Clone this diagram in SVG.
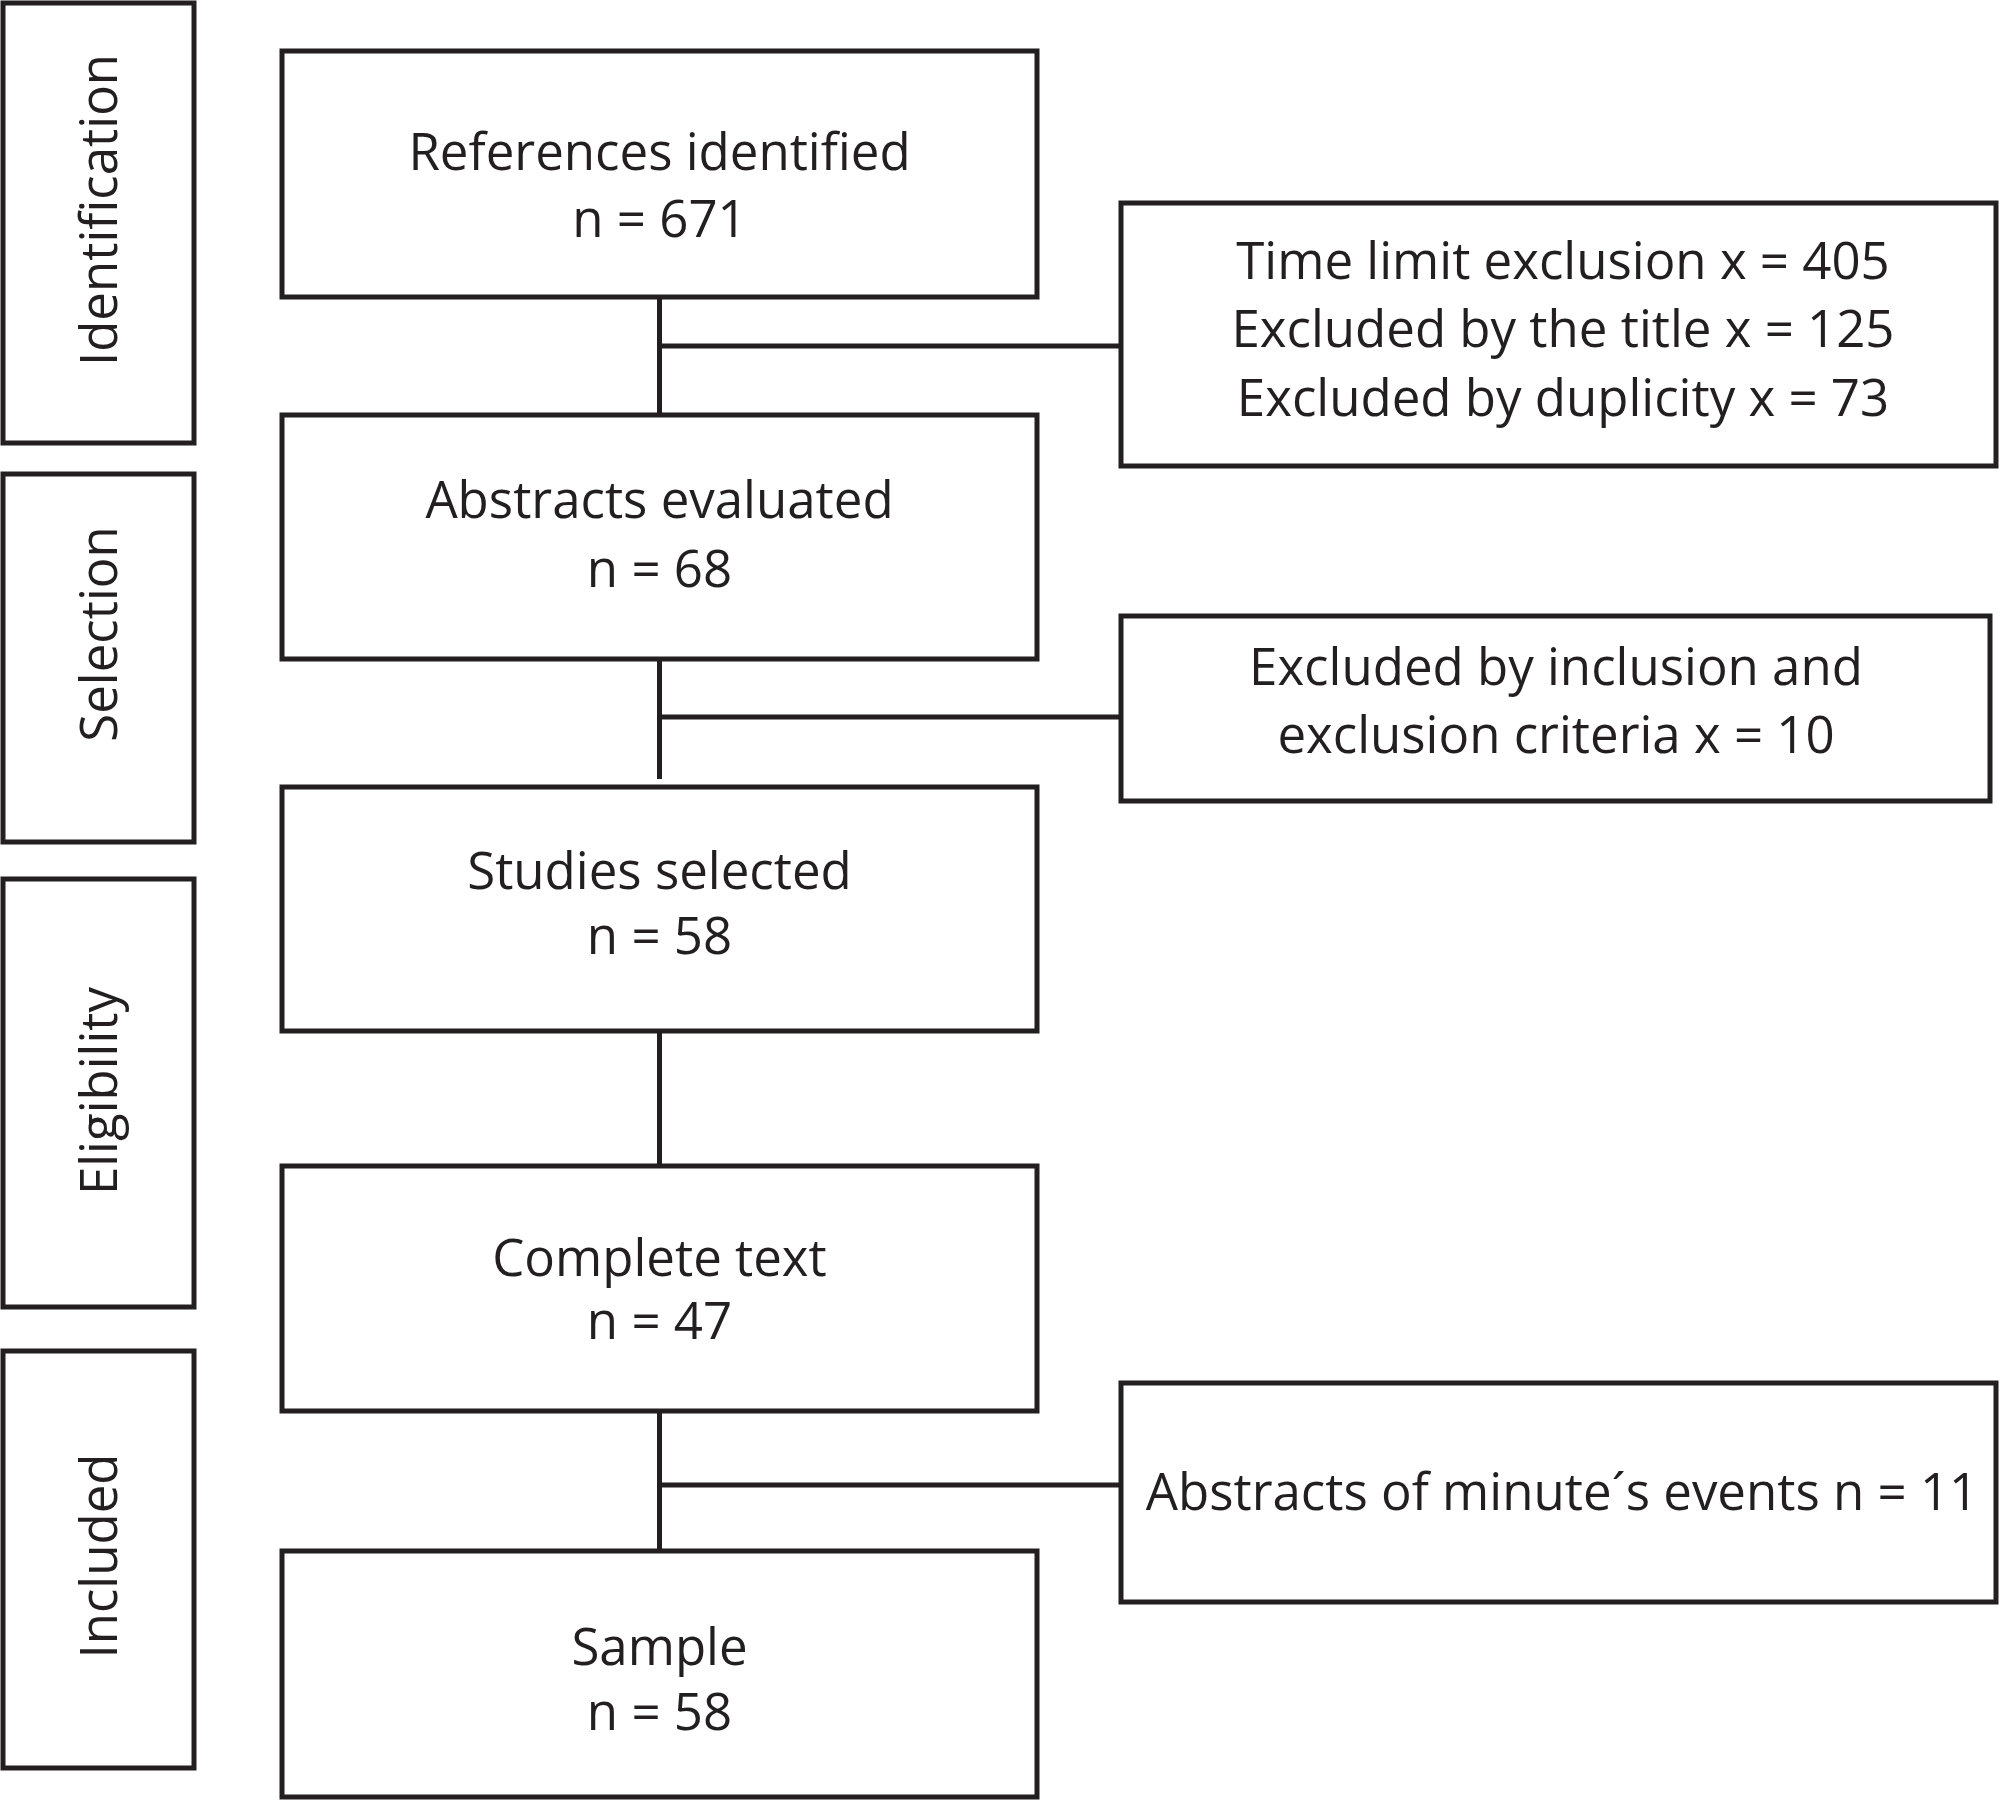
<svg xmlns="http://www.w3.org/2000/svg" width="2000" height="1800" viewBox="0 0 2000 1800">
<style>
rect{fill:#fff;stroke:#231f20;stroke-width:5}
line{stroke:#231f20;stroke-width:5}
text{font-family:"Open Sans","DejaVu Sans",sans-serif;font-size:51px;fill:#231f20;text-anchor:middle}
</style>
<rect x="0" y="0" width="2000" height="1800" style="stroke:none"/>
<g id="stages">
<rect x="3" y="3" width="191" height="440"/>
<text transform="translate(117,210) rotate(-90)">Identification</text>
<rect x="3" y="474" width="191" height="368"/>
<text transform="translate(117,634) rotate(-90)">Selection</text>
<rect x="3" y="879" width="191" height="428"/>
<text transform="translate(117,1091) rotate(-90)">Eligibility</text>
<rect x="3" y="1351" width="191" height="417"/>
<text transform="translate(117,1556) rotate(-90)">Included</text>
</g>
<g id="connectors">
<line x1="659.5" y1="297" x2="659.5" y2="415"/>
<line x1="659.5" y1="346" x2="1121" y2="346"/>
<line x1="659.5" y1="659" x2="659.5" y2="779"/>
<line x1="659.5" y1="717" x2="1121" y2="717"/>
<line x1="659.5" y1="1031" x2="659.5" y2="1166"/>
<line x1="659.5" y1="1411" x2="659.5" y2="1551"/>
<line x1="659.5" y1="1485" x2="1121" y2="1485"/>
</g>
<g id="n1"><rect x="282" y="51" width="755" height="246"/><text x="659.5" y="170">References identified</text><text x="659.5" y="237">n = 671</text></g>
<g id="n2"><rect x="282" y="415" width="755" height="244"/><text x="659.5" y="518">Abstracts evaluated</text><text x="659.5" y="587">n = 68</text></g>
<g id="n3"><rect x="282" y="787" width="755" height="244"/><text x="659.5" y="889">Studies selected</text><text x="659.5" y="954">n = 58</text></g>
<g id="n4"><rect x="282" y="1166" width="755" height="245"/><text x="659.5" y="1276">Complete text</text><text x="659.5" y="1339">n = 47</text></g>
<g id="n5"><rect x="282" y="1551" width="755" height="246"/><text x="659.5" y="1665">Sample</text><text x="659.5" y="1730">n = 58</text></g>
<g id="eA"><rect x="1121" y="203" width="875" height="263"/><text x="1563" y="279">Time limit exclusion x =  405</text><text x="1563" y="347">Excluded by the title x =  125</text><text x="1563" y="416">Excluded by duplicity x = 73</text></g>
<g id="eB"><rect x="1121" y="616" width="869" height="185"/><text x="1556" y="685">Excluded by inclusion and</text><text x="1556" y="753">exclusion criteria  x = 10</text></g>
<g id="eC"><rect x="1121" y="1383" width="875" height="219"/><text x="1562" y="1510">Abstracts of minute´s events n = 11</text></g>
</svg>
